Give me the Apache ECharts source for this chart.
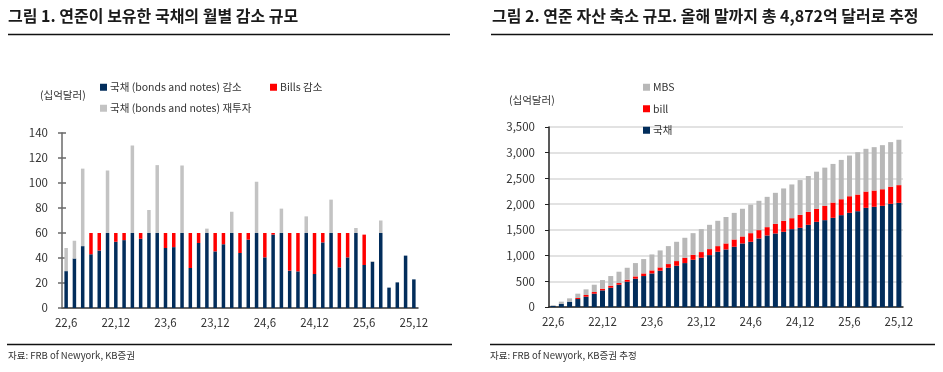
<!DOCTYPE html>
<html><head><meta charset="utf-8">
<script src="https://cdn.jsdelivr.net/npm/echarts@6/dist/echarts.min.js"></script>
<style>html,body{margin:0;padding:0;background:#fff}#c{width:943px;height:372px}</style>
</head><body><div id="c"></div>
<script>
const FONT = "'Noto Sans CJK KR','Noto Sans',sans-serif";
const months = ["22,6","22,7","22,8","22,9","22,10","22,11","22,12","23,1","23,2","23,3","23,4","23,5","23,6","23,7","23,8","23,9","23,10","23,11","23,12","24,1","24,2","24,3","24,4","24,5","24,6","24,7","24,8","24,9","24,10","24,11","24,12","25,1","25,2","25,3","25,4","25,5","25,6","25,7","25,8","25,9","25,10","25,11","25,12"];

// Chart 1 (십억달러)
const c1Bonds  = [29.5,39.6,49.5,43,46,60,53,54.3,60,55.4,60,60,48,48.7,60,32,52,60,45.3,51,60,44,54.7,60,40.5,58.7,60,29.9,29.3,60,27.2,52.5,60,32.5,40.5,60,34.4,37,60,16.3,20.5,41.9,22.9];
const c1Bills  = [0,0,0,17,14,0,7,5.7,0,4.6,0,0,12,11.3,0,28,8,0,14.7,9,0,16,5.3,0,19.5,1.3,0,30.1,30.7,0,32.8,7.5,0,27.5,19.5,0,24.3,0,0,0,0,0,0];
const c1Reinv  = [18.5,14.2,62,0,0,50,0,0,70,0,18.4,54.3,0,0,54,0,0,3.5,0,0,17,0,0,41,0,0,19.5,0,0,13.3,0,0,26.7,0,0,4,0,0.6,10,0,0,0,0];

// Chart 2 (십억달러)
const c2Treas = [20,58,104,155,200,259,323,375,433,492,550,602,653,705,763,802,854,919,958,1009,1074,1119,1171,1236,1268,1333,1391,1430,1462,1514,1540,1598,1656,1689,1734,1786,1831,1863,1928,1948,1967,2006,2025];
const c2Bill  = [0,0,0,20,33,32,33,39,33,38,45,51,59,65,72,91,104,97,110,117,110,117,142,136,168,162,162,188,214,213,252,252,253,278,297,310,323,324,317,317,323,334,345];
const c2MBS   = [15,46,64,84,110,142,168,188,220,233,259,279,310,330,349,375,388,420,446,472,492,514,517,538,554,570,589,602,629,656,676,697,722,743,751,764,791,823,831,843,857,866,882];

const c1YTicks = {min:0, max:140, interval:20};
const c2YTicks = {min:0, max:3500, interval:500};

const NAVY = '#022d5b', RED = '#ff0000', GRAY1 = '#c3c3c3', GRAY2 = '#b8b8b8';
const txt = {fontFamily: FONT, color: '#333'};

const chart = echarts.init(document.getElementById('c'), null, {renderer:'canvas'});
const legItem = (name, left, top) => ({
  data:[name], left, top, icon:'rect', itemWidth:7, itemHeight:7, itemGap:10,
  padding:0, textStyle:Object.assign({fontSize:10.5, padding:[0,0,0,-2]}, txt), selectedMode:false
});
chart.setOption({
  animation:false,
  title:[
    {text:'그림 1. 연준이 보유한 국채의 월별 감소 규모', left:8, top:8, padding:0, textStyle:{fontFamily:FONT, fontSize:16, fontWeight:'bold', color:'#1a1a1a'}},
    {text:'그림 2. 연준 자산 축소 규모. 올해 말까지 총 4,872억 달러로 추정', left:492, top:8, padding:0, textStyle:{fontFamily:FONT, fontSize:16, fontWeight:'bold', color:'#1a1a1a'}},
    {text:'(십억달러)', left:40, top:90, padding:0, textStyle:Object.assign({fontSize:10.5, fontWeight:'normal'}, txt)},
    {text:'(십억달러)', left:509, top:95, padding:0, textStyle:Object.assign({fontSize:10.5, fontWeight:'normal'}, txt)},
    {text:'자료: FRB of Newyork, KB증권', left:8, top:351, padding:0, textStyle:Object.assign({fontSize:9.5, fontWeight:'normal'}, txt)},
    {text:'자료: FRB of Newyork, KB증권 추정', left:490, top:351, padding:0, textStyle:Object.assign({fontSize:9.5, fontWeight:'normal'}, txt)}
  ],
  graphic:[
    {type:'line', shape:{x1:8,y1:34.5,x2:450,y2:34.5}, style:{stroke:'#111', lineWidth:1.5}},
    {type:'line', shape:{x1:491,y1:34.5,x2:933,y2:34.5}, style:{stroke:'#111', lineWidth:1.5}},
    {type:'line', shape:{x1:7,y1:344.5,x2:452,y2:344.5}, style:{stroke:'#111', lineWidth:1.5}},
    {type:'line', shape:{x1:490,y1:344.5,x2:935,y2:344.5}, style:{stroke:'#111', lineWidth:1.5}}
  ],
  legend:[
    legItem('국채 (bonds and notes) 감소', 100, 82),
    legItem('Bills 감소', 270, 82),
    legItem('국채 (bonds and notes) 재투자', 100, 103),
    Object.assign(legItem('MBS', 643, 82), {data:['MBS','bill','국채'], orient:'vertical', itemGap:11})
  ],
  grid:[
    {left:62, right:525, top:133, bottom:64},
    {left:549, right:40, top:127, bottom:65}
  ],
  xAxis:[
    {type:'category', gridIndex:0, data:months, boundaryGap:true,
     axisLine:{lineStyle:{color:'#333', width:1.5}},
     axisTick:{interval:5, inside:true, length:3, lineStyle:{color:'#333'}},
     axisLabel:Object.assign({interval:5, fontSize:11.5, margin:9}, txt)},
    {type:'category', gridIndex:1, data:months, boundaryGap:true,
     axisLine:{lineStyle:{color:'#222', width:1.5}},
     axisTick:{interval:5, inside:false, length:4, lineStyle:{color:'#222'}},
     axisLabel:Object.assign({interval:5, fontSize:11.5, margin:9}, txt)}
  ],
  yAxis:[
    Object.assign({type:'value', gridIndex:0, position:'left',
     axisLine:{show:true, lineStyle:{color:'#6a6a6a', width:1.5}},
     axisTick:{show:true, length:4, lineStyle:{color:'#6a6a6a', width:1.5}},
     splitLine:{show:false},
     axisLabel:Object.assign({fontSize:11.5, margin:14}, txt)}, c1YTicks),
    Object.assign({type:'value', gridIndex:0, position:'left', offset:0,
     axisLine:{show:false},
     axisTick:{show:true, inside:true, length:4, lineStyle:{color:'#6a6a6a', width:1.5}},
     splitLine:{show:false}, axisLabel:{show:false}}, c1YTicks),
    Object.assign({type:'value', gridIndex:1, position:'left',
     axisLine:{show:true, lineStyle:{color:'#222', width:1.5}},
     axisTick:{show:true, length:4, lineStyle:{color:'#222'}},
     splitLine:{show:true, lineStyle:{color:'#d9d9d9', width:1.5}},
     axisLabel:Object.assign({fontSize:11.5, margin:14, formatter:v=>v.toLocaleString('en-US')}, txt)}, c2YTicks)
  ],
  series:[
    {name:'국채 (bonds and notes) 감소', type:'bar', stack:'a', xAxisIndex:0, yAxisIndex:0, data:c1Bonds, barWidth:3.5, itemStyle:{color:NAVY}},
    {name:'Bills 감소', type:'bar', stack:'a', xAxisIndex:0, yAxisIndex:0, data:c1Bills, barWidth:3.5, itemStyle:{color:RED}},
    {name:'국채 (bonds and notes) 재투자', type:'bar', stack:'a', xAxisIndex:0, yAxisIndex:0, data:c1Reinv, barWidth:3.5, itemStyle:{color:GRAY1}},
    {name:'국채', type:'bar', stack:'b', xAxisIndex:1, yAxisIndex:2, data:c2Treas, barWidth:5, itemStyle:{color:NAVY}},
    {name:'bill', type:'bar', stack:'b', xAxisIndex:1, yAxisIndex:2, data:c2Bill, barWidth:5, itemStyle:{color:RED}},
    {name:'MBS', type:'bar', stack:'b', xAxisIndex:1, yAxisIndex:2, data:c2MBS, barWidth:5, itemStyle:{color:GRAY2}}
  ]
});
</script></body></html>
